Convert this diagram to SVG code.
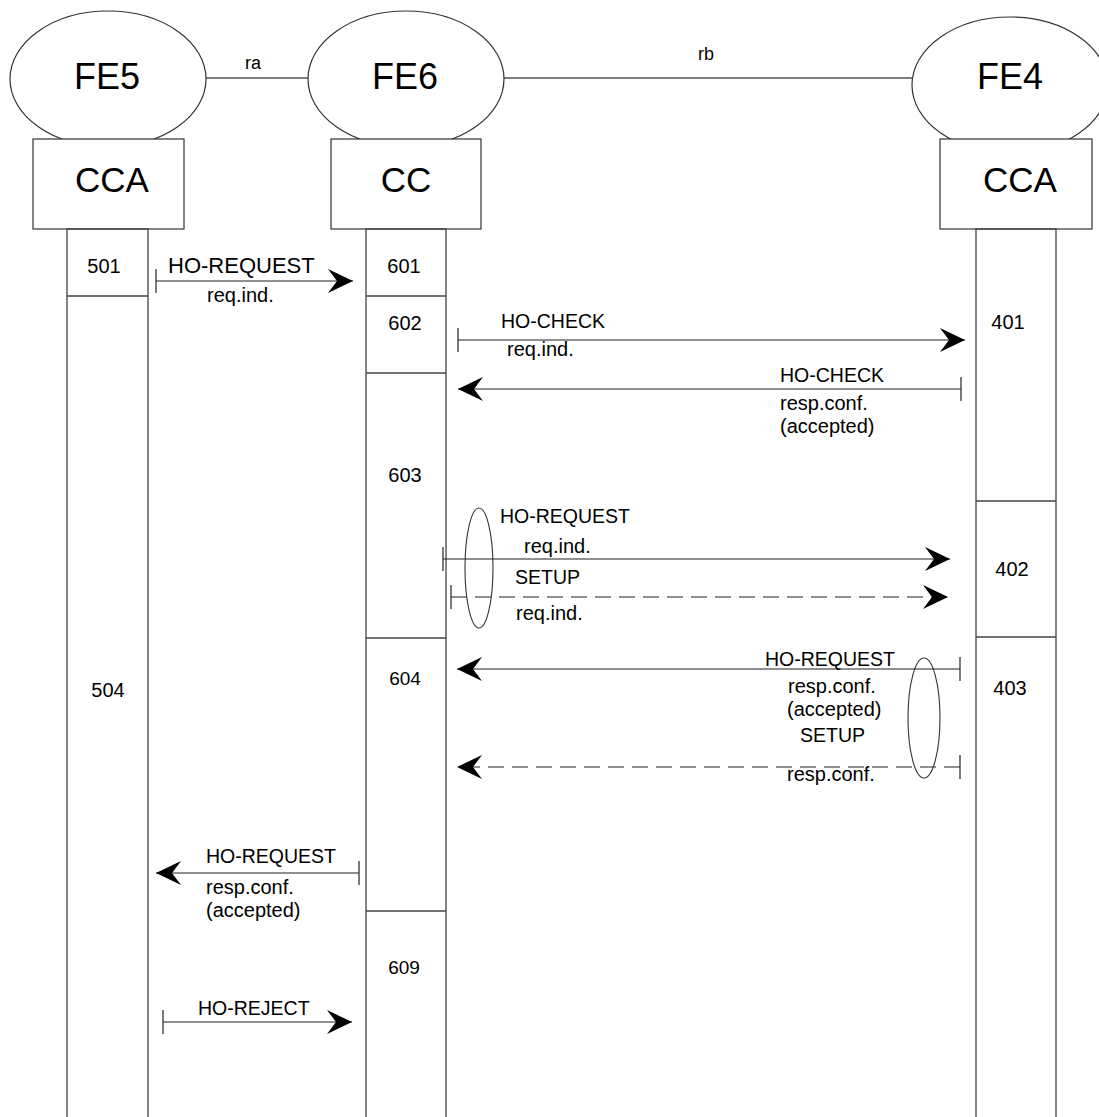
<svg xmlns="http://www.w3.org/2000/svg" width="1099" height="1117" viewBox="0 0 1099 1117">
<style>
  .shape { fill: #ffffff; stroke: #333333; stroke-width: 1.2; }
  .life { fill: none; stroke: #444444; stroke-width: 1.3; }
  .link { stroke: #555555; stroke-width: 1.3; fill: none; }
  .msg { stroke: #222222; stroke-width: 1.2; fill: none; marker-start: url(#tick); marker-end: url(#head); }
  .dash { stroke-dasharray: 16 8; }
  .ring { fill: none; stroke: #333333; stroke-width: 1.1; }
  text { font-family: "Liberation Sans", Arial, sans-serif; fill: #000000; }
  .big { font-size: 36px; text-anchor: middle; }
  .box { font-size: 35px; text-anchor: middle; }
  .ref { font-size: 18px; text-anchor: middle; }
  .num { font-size: 20px; text-anchor: middle; }
  .num2 { font-size: 19px; text-anchor: middle; }
  .lab { font-size: 19.5px; }
  .sub { font-size: 20px; }
</style>
<defs>
  <marker id="head" markerUnits="userSpaceOnUse" markerWidth="26" markerHeight="26" viewBox="0 0 26 24" refX="25" refY="12" orient="auto">
    <path d="M0,0 L25,12 L0,24 L9,12 Z" fill="#000000"/>
  </marker>
  <marker id="tick" markerUnits="userSpaceOnUse" markerWidth="4" markerHeight="26" viewBox="-2 0 4 24" refX="0" refY="12" orient="auto">
    <path d="M0,0 L0,24" stroke="#333333" stroke-width="1.3" fill="none"/>
  </marker>
</defs>
<rect x="0" y="0" width="1099" height="1117" fill="#ffffff"/>

<g id="links">
  <line class="link" x1="206" y1="78" x2="308" y2="78"/>
  <line class="link" x1="504" y1="78" x2="912" y2="78"/>
  <text class="ref" x="253" y="69">ra</text>
  <text class="ref" x="706" y="60">rb</text>
</g>

<g id="fe5">
  <ellipse class="shape" cx="108" cy="79" rx="98" ry="68"/>
  <text class="big" x="107" y="89">FE5</text>
  <rect class="shape" x="33" y="139" width="151" height="90"/>
  <text class="box" x="112" y="192">CCA</text>
  <rect class="life" x="67" y="229" width="81" height="900"/>
  <line class="life" x1="67" y1="296" x2="148" y2="296"/>
  <text class="num" x="104" y="273">501</text>
  <text class="num" x="108" y="697">504</text>
</g>

<g id="fe6">
  <ellipse class="shape" cx="406" cy="79" rx="98" ry="68"/>
  <text class="big" x="405" y="89">FE6</text>
  <rect class="shape" x="331" y="139" width="150" height="90"/>
  <text class="box" x="406" y="192">CC</text>
  <rect class="life" x="366" y="229" width="80" height="900"/>
  <line class="life" x1="366" y1="296" x2="446" y2="296"/>
  <line class="life" x1="366" y1="373" x2="446" y2="373"/>
  <line class="life" x1="366" y1="638" x2="446" y2="638"/>
  <line class="life" x1="366" y1="911" x2="446" y2="911"/>
  <text class="num" x="404" y="273">601</text>
  <text class="num" x="405" y="330">602</text>
  <text class="num" x="405" y="482">603</text>
  <text class="num2" x="405" y="685">604</text>
  <text class="num2" x="404" y="974">609</text>
</g>

<g id="fe4">
  <ellipse class="shape" cx="1010" cy="85" rx="98" ry="68"/>
  <text class="big" x="1010" y="89">FE4</text>
  <rect class="shape" x="940" y="139" width="152" height="90"/>
  <text class="box" x="1020" y="192">CCA</text>
  <rect class="life" x="976" y="229" width="80" height="900"/>
  <line class="life" x1="976" y1="501" x2="1056" y2="501"/>
  <line class="life" x1="976" y1="637" x2="1056" y2="637"/>
  <text class="num" x="1008" y="329">401</text>
  <text class="num" x="1012" y="576">402</text>
  <text class="num" x="1010" y="695">403</text>
</g>

<g id="connectors">
  <line class="msg" x1="156" y1="281" x2="353" y2="281"/>
  <text x="168" y="273" style="font-size:22px">HO-REQUEST</text>
  <text class="sub" x="207" y="302">req.ind.</text>

  <line class="msg" x1="458" y1="340" x2="965" y2="340"/>
  <text class="lab" x="501" y="328">HO-CHECK</text>
  <text class="sub" x="507" y="356">req.ind.</text>

  <line class="msg" x1="961" y1="389" x2="458" y2="389"/>
  <text class="lab" x="780" y="382">HO-CHECK</text>
  <text class="sub" x="780" y="410">resp.conf.</text>
  <text class="sub" x="780" y="433">(accepted)</text>

  <line class="msg" x1="443" y1="559" x2="950" y2="559"/>
  <text class="lab" x="500" y="523">HO-REQUEST</text>
  <text class="sub" x="524" y="553">req.ind.</text>

  <line class="msg dash" x1="451" y1="597" x2="948" y2="597"/>
  <text class="lab" x="515" y="584">SETUP</text>
  <text class="sub" x="516" y="620">req.ind.</text>
  <ellipse class="ring" cx="479" cy="568" rx="14" ry="60"/>

  <line class="msg" x1="960" y1="669" x2="457" y2="669"/>
  <text class="lab" x="765" y="666">HO-REQUEST</text>
  <text class="sub" x="788" y="693">resp.conf.</text>
  <text class="sub" x="787" y="716">(accepted)</text>

  <line class="msg dash" x1="960" y1="767" x2="457" y2="767"/>
  <text class="lab" x="800" y="742">SETUP</text>
  <text class="sub" x="787" y="781">resp.conf.</text>
  <ellipse class="ring" cx="924" cy="718" rx="16" ry="60"/>

  <line class="msg" x1="359" y1="873" x2="156" y2="873"/>
  <text class="lab" x="206" y="863">HO-REQUEST</text>
  <text class="sub" x="206" y="894">resp.conf.</text>
  <text class="sub" x="206" y="917">(accepted)</text>

  <line class="msg" x1="163" y1="1022" x2="352" y2="1022"/>
  <text class="lab" x="198" y="1015">HO-REJECT</text>
</g>
</svg>
